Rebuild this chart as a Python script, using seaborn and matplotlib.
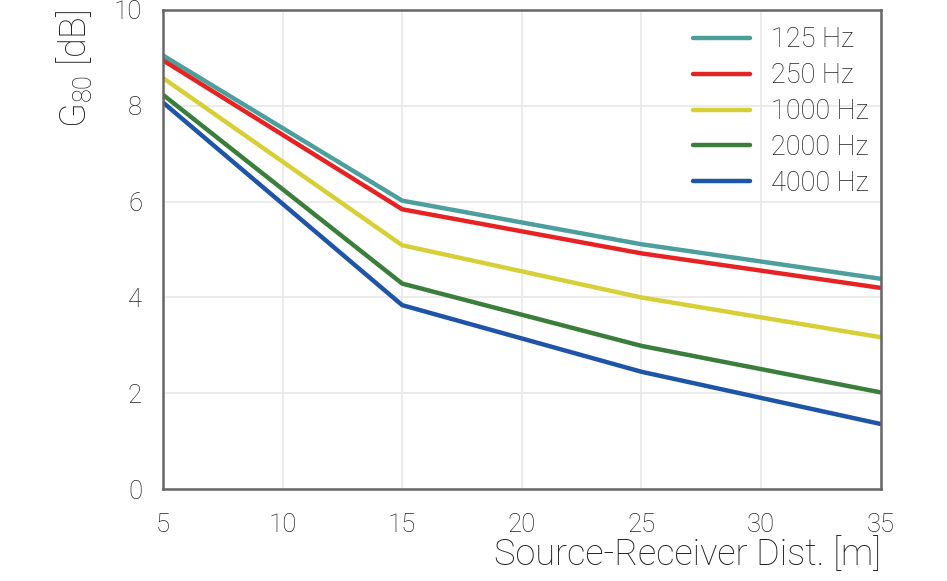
import matplotlib
matplotlib.use("Agg")
import matplotlib.pyplot as plt
import seaborn as sns
import pandas as pd

distances = [5, 15, 25, 35]
freq_labels = ["125 Hz", "250 Hz", "1000 Hz", "2000 Hz", "4000 Hz"]
g80_125 = [9.05, 6.02, 5.11, 4.39]
g80_250 = [8.95, 5.84, 4.92, 4.20]
g80_1000 = [8.58, 5.09, 4.00, 3.17]
g80_2000 = [8.23, 4.29, 2.99, 2.02]
g80_4000 = [8.07, 3.84, 2.45, 1.36]
colors = ["#4C9F9C", "#E62222", "#D6CF35", "#3B7D3A", "#1F55A8"]

x_ticks = [5, 10, 15, 20, 25, 30, 35]
y_ticks = [0, 2, 4, 6, 8, 10]

series = [g80_125, g80_250, g80_1000, g80_2000, g80_4000]
rows = []
for lab, vals in zip(freq_labels, series):
    for d, v in zip(distances, vals):
        rows.append({"dist": d, "g80": v, "freq": lab})
df = pd.DataFrame(rows)

sns.set_style("white")
plt.rcParams["font.family"] = ["Roboto", "DejaVu Sans"]
plt.rcParams["font.weight"] = "light"
plt.rcParams["mathtext.default"] = "regular"

fig = plt.figure(figsize=(9.47, 5.81), dpi=100)
ax = fig.add_axes([0.172, 0.158, 0.758, 0.825])

sns.lineplot(data=df, x="dist", y="g80", hue="freq", hue_order=freq_labels,
             palette=colors, linewidth=3.2, ax=ax, legend=True)

ax.set_xlim(5, 35)
ax.set_ylim(0, 10)
ax.set_xticks(x_ticks)
ax.set_yticks(y_ticks)
ax.grid(True, color="#e8e8e8", linewidth=1.2)
ax.tick_params(axis="both", length=0, labelsize=18.5, colors="#222222")
ax.tick_params(axis="x", pad=17)
ax.tick_params(axis="y", pad=15)
for lbl in ax.get_xticklabels() + ax.get_yticklabels():
    lbl.set_fontweight("light")
for s in ax.spines.values():
    s.set_color("#666666")
    s.set_linewidth(1.8)

ax.set_xlabel("Source-Receiver Dist. [m]", fontsize=26, loc="right",
              color="#222222", fontweight="light", labelpad=0)
ax.set_ylabel("G$_{80}$ [dB]", fontsize=26, loc="top",
              color="#222222", fontweight="light", labelpad=14)

leg = ax.legend(loc="upper right", frameon=False, fontsize=19.5,
                handlelength=2.1, handletextpad=0.75, labelspacing=0.33,
                borderaxespad=0.2, bbox_to_anchor=(1.005, 1.0))
for t in leg.get_texts():
    t.set_color("#222222")
    t.set_fontweight("light")

fig.savefig("out.png", dpi=100)
